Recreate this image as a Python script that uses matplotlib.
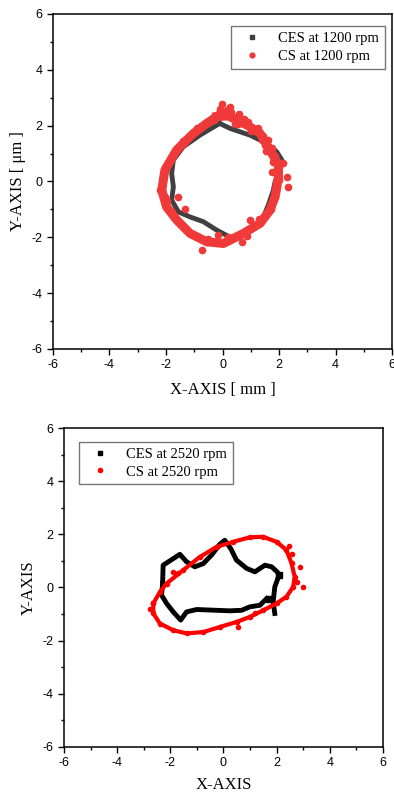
import numpy as np
import matplotlib
matplotlib.use("Agg")
import matplotlib.pyplot as plt
from matplotlib.lines import Line2D

plt.rcParams['axes.unicode_minus'] = False

# ---- 1200 rpm ----
ces1_x = [-0.10, 0.27, 0.97, 1.56, 1.92, 2.10, 2.04, 1.86, 1.80, 1.62, 1.45, 1.21, 0.74,
          0.27, -0.21, -0.68, -1.15, -1.56, -1.80, -1.74, -1.80, -1.74, -1.39, -0.80]
ces1_y = [2.08, 1.90, 1.66, 1.37, 1.06, 0.77, 0.35, -0.01, -0.31, -0.85, -1.27, -1.62, -1.92,
          -2.00, -1.74, -1.44, -1.27, -1.09, -0.67, -0.19, 0.29, 0.77, 1.24, 1.66]

cs1_x = [-0.21, 0.20, 0.50, 0.90, 1.33, 1.68, 1.98, 1.98, 1.92, 1.86, 1.68, 1.33, 0.74,
         0.27, 0.03, -0.56, -1.15, -1.62, -1.98, -2.15, -2.04, -1.62, -1.03, -0.60]
cs1_y = [2.32, 2.35, 2.20, 2.00, 1.72, 1.13, 0.59, 0.17, -0.20, -0.55, -1.03, -1.50, -1.86,
         -2.10, -2.22, -2.16, -1.86, -1.38, -0.91, -0.31, 0.41, 1.13, 1.72, 2.05]
cs1_extra_x = [-0.03, 0.27, 2.27, 2.33, -1.56, -1.33, 0.97, -0.74, -0.15, 0.68, 2.15,
               0.30, 0.60, 0.90, 1.05, 0.45, 1.25, 1.45, 1.62, 1.75, 1.85, 1.95, 0.15,
               -0.10, 1.10, 2.00, 1.70, -2.20, -1.95, -0.50, 0.20, 1.55, 0.05, 0.40,
               0.75, 1.15, 1.40, 1.80, 1.90, -2.10, -2.05, -1.85, -1.40, -0.90, -0.30,
               0.55, 1.00, 1.50, 1.75, -1.80, -1.30, 0.85, 1.30]
cs1_extra_y = [2.77, 2.68, 0.15, -0.19, -0.55, -1.00, -1.38, -2.46, -1.92, -2.16, 0.65,
               2.50, 2.40, 2.12, 1.90, 2.05, 1.92, 1.62, 1.48, 1.20, 0.90, 0.45, 2.55,
               2.60, -1.60, 0.05, -1.00, -0.30, -0.70, -2.05, -2.00, 1.10, 2.45, 2.30,
               2.25, 1.85, 1.50, 0.70, -0.35, 0.10, -0.55, 0.75, 1.45, 1.90, 2.20,
               2.05, 1.80, 1.30, 0.35, -1.10, -1.70, -1.95, -1.35]

# ---- 2520 rpm ----
ces2_x = [-2.29, -2.27, -1.64, -1.39, -1.08, -0.76, -0.45, -0.14, 0.05, 0.27, 0.49, 0.87,
          1.18, 1.56, 1.81, 2.02, 2.09, 1.93, 1.87, 1.93]
ces2_y = [0.15, 0.84, 1.25, 0.97, 0.78, 0.90, 1.22, 1.63, 1.78, 1.47, 1.03, 0.72,
          0.59, 0.84, 0.78, 0.59, 0.46, 0.02, -0.54, -0.98]
ces2b_x = [1.62, 1.37, 0.99, 0.68, 0.24, -0.26, -1.01, -1.39, -1.61, -1.89, -2.14, -2.33, -2.29]
ces2b_y = [-0.42, -0.67, -0.73, -0.86, -0.88, -0.86, -0.83, -0.92, -1.23, -0.92, -0.60, -0.29, 0.15]

cs2_x = [-2.64, -2.39, -2.14, -1.52, -0.89, -0.26, 0.36, 0.99, 1.49, 2.00, 2.37, 2.56,
         2.68, 2.62, 2.37, 2.00, 1.49, 0.99, 0.49, -0.14, -0.76, -1.39, -1.89, -2.39, -2.64]
cs2_y = [-0.60, -0.17, 0.15, 0.65, 1.15, 1.53, 1.72, 1.89, 1.91, 1.72, 1.41, 0.91,
         0.40, 0.02, -0.35, -0.60, -0.86, -1.11, -1.30, -1.49, -1.68, -1.73, -1.61, -1.36, -0.98]
cs2_extra_x = [2.56, 2.87, 3.00, 2.75, 0.55, -1.89, -1.70, 2.45, 1.20, -2.75]
cs2_extra_y = [1.28, 0.78, 0.02, 0.21, -1.49, 0.59, 0.55, 1.55, -0.95, -0.80]

gray = "#404040"
red1 = "#f03a3a"
red2 = "#ff0000"

fig = plt.figure(figsize=(3.94, 7.94), dpi=100)
ax1 = fig.add_axes([0.1345, 0.5605, 0.8605, 0.4219])
ax2 = fig.add_axes([0.1624, 0.0596, 0.8096, 0.4010])

# top
ax1.plot(ces1_x + ces1_x[:1], ces1_y + ces1_y[:1], color=gray, lw=3.5, solid_joinstyle="round")
ax1.plot(cs1_x + cs1_x[:1], cs1_y + cs1_y[:1], color=red1, lw=6.5, marker="o", ms=4.5,
         solid_joinstyle="round")
ax1.plot(cs1_extra_x, cs1_extra_y, ls="none", color=red1, marker="o", ms=4.5)

# bottom
ax2.plot(ces2_x, ces2_y, color="black", lw=3.5)
ax2.plot(ces2b_x, ces2b_y, color="black", lw=3.5)
ax2.plot([2.09], [0.46], ls="none", marker="s", color="black", ms=5)
ax2.plot([1.70], [-0.45], ls="none", marker="s", color="black", ms=4)
ax2.plot(cs2_x + cs2_x[:1], cs2_y + cs2_y[:1], color=red2, lw=3, marker="o", ms=3)
ax2.plot(cs2_extra_x, cs2_extra_y, ls="none", color=red2, marker="o", ms=3)

for ax in (ax1, ax2):
    ax.set_xlim(-6, 6)
    ax.set_ylim(-6, 6)
    ax.set_xticks([-6, -4, -2, 0, 2, 4, 6])
    ax.set_yticks([-6, -4, -2, 0, 2, 4, 6])
    ax.set_xticks([-5, -3, -1, 1, 3, 5], minor=True)
    ax.set_yticks([-5, -3, -1, 1, 3, 5], minor=True)
    ax.tick_params(which="major", direction="out", length=4, width=1,
                   labelsize=9, top=False, right=False)
    ax.tick_params(which="minor", direction="out", length=2.5, width=1,
                   top=False, right=False)
    for lab in ax.get_xticklabels() + ax.get_yticklabels():
        lab.set_family("Liberation Sans")
    for s in ax.spines.values():
        s.set_linewidth(1.1)

serif = {"family": "Liberation Serif", "size": 12}
ax1.set_xlabel("X-AXIS [ mm ]", fontdict=serif, labelpad=8)
ax1.set_ylabel("Y-AXIS [ μm ]", fontdict=serif, labelpad=4)
ax2.set_xlabel("X-AXIS", fontdict=serif, labelpad=6)
ax2.set_ylabel("Y-AXIS", fontdict=serif, labelpad=4)

h1 = [Line2D([], [], ls="none", marker="s", ms=3.5, color=gray),
      Line2D([], [], ls="none", marker="o", ms=3.5, color=red1)]
ax1.legend(h1, ["CES at 1200 rpm", "CS at 1200 rpm"], loc="upper right",
           bbox_to_anchor=(1.0, 0.985), prop={"family": "Liberation Serif", "size": 10.5},
           frameon=True, fancybox=False, edgecolor="#555555", borderpad=0.4,
           handletextpad=0.8, labelspacing=0.3)
h2 = [Line2D([], [], ls="none", marker="s", ms=3.5, color="black"),
      Line2D([], [], ls="none", marker="o", ms=3, color=red2)]
ax2.legend(h2, ["CES at 2520 rpm", "CS at 2520 rpm"], loc="upper left",
           bbox_to_anchor=(0.025, 0.98), prop={"family": "Liberation Serif", "size": 10.5},
           frameon=True, fancybox=False, edgecolor="#555555", borderpad=0.4,
           handletextpad=0.8, labelspacing=0.3)

fig.savefig("out.png", dpi=100)
